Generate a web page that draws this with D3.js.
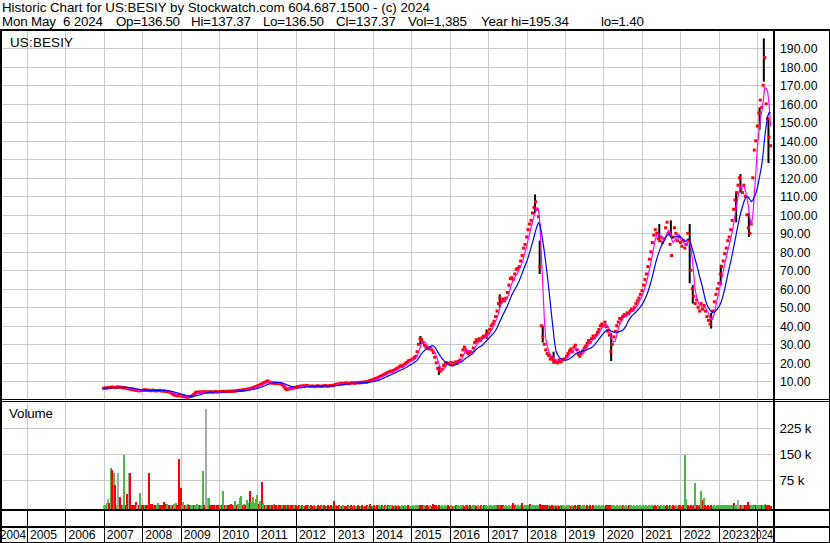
<!DOCTYPE html>
<html><head><meta charset="utf-8">
<script src="https://cdn.jsdelivr.net/npm/d3@7"></script>
<style>
html,body{margin:0;padding:0;background:#fff;}
svg{display:block;}
text{font-family:"Liberation Sans",Arial,sans-serif;fill:#000;font-size:13.33px;white-space:pre;}
</style>
</head><body>
<svg id="c" width="830" height="543"></svg>
<script>
// ---------------- DATA ----------------
const headerLine1 = "Historic Chart for US:BESIY by Stockwatch.com 604.687.1500 - (c) 2024";
const headerFields = ["Mon May  6 2024", "Op=136.50", "Hi=137.37", "Lo=136.50", "Cl=137.37", "Vol=1,385", "Year hi=195.34", "lo=1.40"];
const symbolLabel = "US:BESIY";
const volumeLabel = "Volume";
const yearLabels = [2004,2005,2006,2007,2008,2009,2010,2011,2012,2013,2014,2015,2016,2017,2018,2019,2020,2021,2022,2023,2024];
const priceTicks = [10,20,30,40,50,60,70,80,90,100,110,120,130,140,150,160,170,180,190];
const volumeTicks = [75,150,225]; // thousands

// bi-weekly closes (Jan 1 + 14*i days)
const close2007 = [6.2,6.4,6.3,6.6,6.5,6.8,6.9,6.7,6.6,7.0,6.8,6.9,6.7,6.5,6.6,6.4,6.2,6.0,5.8,5.5,5.6,5.3,5.0,5.2,4.8,5.0];
const close2008 = [5.0,5.2,5.4,5.1,5.3,5.0,4.9,5.2,5.1,4.8,5.0,4.9,5.1,4.8,4.7,4.9,4.6,4.4,4.5,4.0,3.6,3.0,2.6,2.4,2.2,2.3];
const close2009 = [2.2,2.0,1.8,1.6,1.5,1.4,1.6,1.8,2.2,3.0,3.8,4.2,4.0,4.3,4.1,4.2,4.4,4.2,4.3,4.1,4.4,4.2,4.0,4.3,4.4,4.2];
const close2010 = [4.3,4.4,4.5,4.6,4.4,4.5,4.7,4.5,4.6,4.8,4.6,4.7,4.9,5.0,5.2,5.1,5.3,5.5,5.4,5.7,5.9,6.0,6.2,6.5,6.8,7.2];
const close2011 = [7.5,7.8,8.2,8.6,9.0,9.4,9.8,10.2,9.6,9.3,9.0,9.2,8.8,9.1,8.7,8.9,8.5,8.0,7.0,6.0,5.5,5.8,6.2,5.9,6.3,6.5];
const close2012 = [6.8,7.0,7.2,7.4,7.3,7.6,7.5,7.8,7.6,7.4,7.2,7.5,7.3,7.1,7.4,7.6,7.3,7.2,7.5,7.4,7.7,7.5,7.3,7.6,7.8,7.6];
const close2013 = [8.0,8.3,8.5,8.4,8.7,8.9,8.6,8.8,9.1,8.9,8.7,9.0,9.3,9.1,8.9,9.2,9.4,9.1,9.5,9.3,9.6,9.8,9.5,9.9,10.3,10.6];
const close2014 = [10.8,11.2,11.5,11.8,12.2,12.6,13.0,13.4,13.8,14.2,14.8,15.0,15.5,15.2,15.8,16.3,16.8,17.2,17.8,18.4,18.0,18.8,19.5,20.2,21.0,21.3];
const close2015 = [21.5,22.0,22.8,23.5,26.0,30.0,33.0,32.5,31.0,29.5,28.5,28.0,27.5,28.0,27.0,25.5,23.0,20.0,17.0,16.0,15.5,16.5,18.5,19.5,20.0,19.8];
const close2016 = [19.5,20.2,19.0,19.8,20.5,19.6,20.8,21.5,24.0,27.0,28.5,27.0,25.5,24.8,26.0,25.5,28.0,31.0,32.5,31.5,33.0,32.0,33.5,34.5,34.0,35.5];
const close2017 = [36.0,38.0,40.0,41.0,42.5,45.0,48.0,52.0,55.0,53.0,54.5,53.5,55.0,58.0,62.0,65.5,66.0,65.0,68.0,70.5,71.0,72.0,75.0,78.0,82.0,84.0];
const close2018 = [88.0,92.0,95.0,97.0,101.0,104.0,107.0,103.0,99.0,72.0,40.0,34.0,30.0,27.0,25.0,24.0,22.0,23.0,21.5,20.5,21.0,20.0,21.5,20.5,21.0,22.0];
const close2019 = [22.0,23.5,25.0,26.5,27.5,26.0,28.5,29.5,27.0,24.5,23.5,25.0,26.5,28.0,29.0,30.5,32.0,31.0,33.0,34.5,33.5,35.0,36.5,38.0,40.0,41.0];
const close2020 = [40.0,42.0,39.5,37.0,35.0,26.0,30.0,34.0,37.0,40.0,42.0,44.0,43.5,45.0,46.0,45.5,47.0,46.5,48.0,49.0,48.5,50.0,52.0,53.5,55.0,57.0];
const close2021 = [59.0,62.0,65.0,68.0,72.0,76.0,80.0,85.0,89.0,92.0,90.0,87.0,86.0,88.0,85.0,87.0,93.0,96.0,90.0,84.0,78.0,88.0,93.0,90.0,86.0,88.0];
const close2022 = [85.0,83.0,86.0,82.0,84.0,90.0,86.0,70.0,60.0,56.0,52.0,54.0,50.0,48.0,52.0,49.0,51.0,48.0,45.0,43.0,41.0,44.0,48.0,53.0,57.0,60.0];
const close2023 = [63.0,68.0,72.0,75.0,79.0,82.0,86.0,88.0,92.0,97.0,103.0,108.0,112.0,116.0,120.0,114.0,112.0,116.0,110.0,100.0,93.0,90.0,95.0,120.0,135.0,140.0];
const close2024 = [148.0,155.0,162.0,158.0,170.0,185.0,160.0,152.0,142.0,137.37];

// notable high-low bars (decimal year, high, low)
const barYears = [2007.30,2008.00,2008.85,2011.28,2015.24,2015.72,2016.96,2017.30,2018.22,2018.34,2018.42,2018.70,2020.20,2021.45,2021.75,2022.24,2022.32,2022.80,2023.05,2023.45,2023.56,2023.78,2024.06,2024.17,2024.29];
const barHighs = [7.2,5.6,3.8,10.8,34.5,18.0,38.0,57.0,111.0,86.0,40.0,26.0,36.0,95.0,97.0,95.0,62.0,47.0,73.0,112.0,122.0,101.0,158.0,195.34,152.0];
const barLows  = [6.2,4.3,2.3,9.2,30.0,13.5,33.0,50.0,101.0,68.0,31.0,19.5,21.0,86.0,88.0,63.0,52.0,38.5,62.0,96.0,112.0,88.0,146.0,172.0,128.0];

// bi-weekly volume (thousands) and direction (u=up green, d=down red, n=unchanged gray)
const vol2007 = [4,3,10,21,10,110,105,96,61,4,96,28,3,5,148,3,35,96,96,3,4,3,12,4,3,37];
const dir2007 = "nuun dudu dund duud dndd dddn du";
const vol2008 = [4,3,5,3,4,96,6,7,3,4,5,10,3,4,5,12,6,8,3,5,4,3,6,10,3,136];
const dir2008 = "ddud dddd uduu dddd dudd uduu dd";
const vol2009 = [53,4,12,3,3,6,3,4,5,3,4,6,3,4,5,102,4,281,24,24,4,3,4,3,3,4];
const dir2009 = "duud uudu uduu uduu dnnu dddd ud";
const vol2010 = [3,4,3,44,3,4,3,5,6,4,5,15,4,6,24,30,4,8,3,18,10,44,12,27,10,20];
const dir2010 = "dudu dudd dduu duuu dudu uduu uu";
const vol2011 = [33,8,15,70,10,3,4,3,5,4,3,6,3,4,3,5,3,4,3,5,4,3,4,3,5,4];
const dir2011 = "udud udud dudu ddud dudd udud du";
const vol2012 = [3,2,4,2,3,2,2,3,4,2,3,2,3,2,2,3,2,4,2,3,2,2,3,2,3,2];
const dir2012 = "dddu dudd dudd udud ddud dudd du";
const vol2013 = [15,3,2,3,2,2,3,2,2,3,2,4,2,3,2,2,3,2,2,3,2,2,3,2,7,2];
const dir2013 = "dudd udud ddud dudu ddud uddu dd";
const vol2014 = [2,3,2,3,3,2,4,2,3,2,3,2,3,4,2,3,2,3,2,2,3,2,3,2,3,2];
const dir2014 = "udud uudu dudu uudu dudu uduu du";
const vol2015 = [2,3,2,4,3,5,4,3,2,3,2,3,2,3,2,6,3,3,2,3,2,3,2,3,2,3];
const dir2015 = "uuuu uudd dudd dudd ddud uuuu ud";
const vol2016 = [2,3,2,2,3,2,3,2,3,3,2,3,4,2,3,2,4,3,2,3,2,3,2,3,2,3];
const dir2016 = "dudu duuu uudu dudu uudu udud uu";
const vol2017 = [2,3,3,2,3,3,2,3,3,4,3,2,3,2,3,2,3,10,3,2,3,2,3,10,2,3];
const dir2017 = "uuuu uuud uddu uuuu uddu uuud uu";
const vol2018 = [3,3,7,5,3,4,3,3,4,7,5,4,3,3,4,3,2,3,2,3,2,3,2,3,2,3];
const dir2018 = "uudu uuuu uddd dddu dddu dudu du";
const vol2019 = [2,3,2,3,2,3,2,3,2,3,4,2,3,4,2,3,2,3,2,3,2,3,2,3,2,3];
const dir2019 = "uuuu dudd uddu uuud udud uuuu uu";
const vol2020 = [3,2,3,4,3,5,3,3,2,3,2,3,2,3,2,3,2,3,2,3,2,3,2,3,2,3];
const dir2020 = "uudd dduu uuuu uduu uduu uuuu uu";
const vol2021 = [2,3,2,3,2,3,2,3,2,3,2,3,2,3,2,3,2,3,2,3,2,3,2,3,2,3];
const dir2021 = "uuuu uuuu dddu duuu ddud uddu ud";
const vol2022 = [3,2,3,148,21,3,2,3,2,3,68,3,2,3,44,18,25,3,2,3,2,3,2,3,2,3];
const dir2022 = "dudu uddd ddud ddud uddd uduu uu";
const vol2023 = [3,4,3,4,3,4,3,4,3,4,10,3,4,18,3,4,3,4,3,4,13,3,4,3,4,3];
const dir2023 = "uuuu uuuu uudu unud uudd dduu ud";
const vol2024 = [3,4,3,5,4,6,4,3,4,2];
const dir2024 = "uuud uudd dd";

// ---------------- ASSEMBLY ----------------
const dataYears = [2007,2008,2009,2010,2011,2012,2013,2014,2015,2016,2017,2018,2019,2020,2021,2022,2023,2024];
const closesByYear = [close2007,close2008,close2009,close2010,close2011,close2012,close2013,close2014,close2015,close2016,close2017,close2018,close2019,close2020,close2021,close2022,close2023,close2024];
const volsByYear = [vol2007,vol2008,vol2009,vol2010,vol2011,vol2012,vol2013,vol2014,vol2015,vol2016,vol2017,vol2018,vol2019,vol2020,vol2021,vol2022,vol2023,vol2024];
const dirsByYear = [dir2007,dir2008,dir2009,dir2010,dir2011,dir2012,dir2013,dir2014,dir2015,dir2016,dir2017,dir2018,dir2019,dir2020,dir2021,dir2022,dir2023,dir2024];

const points = [];
dataYears.forEach((yr,k)=>{
  const dirs = dirsByYear[k].replace(/ /g,'');
  closesByYear[k].forEach((c,i)=>{
    points.push({date:d3.timeDay.offset(new Date(yr,0,1),14*i), close:c, vol:volsByYear[k][i], dir:dirs[i]});
  });
});
function decYear(v){ const yr=Math.floor(v); return d3.timeDay.offset(new Date(yr,0,1), Math.round((v-yr)*365.25)); }
const bars = barYears.map((v,i)=>({date:decYear(v), hi:barHighs[i], lo:barLows[i]}));
function sma(arr,n){ return arr.map((d,i)=>({date:d.date, v:d3.mean(arr.slice(Math.max(0,i-n+1),i+1), e=>e.close)})); }
const maShort = sma(points,4);
const maLong = sma(points,11);

// text advance widths of the original bitmap font (px per glyph), used to size texts
const adv = {' ':4,'0':7,'1':7,'2':7,'3':7,'4':7,'5':7,'6':7,'7':7,'8':7,'9':7,'.':4,',':4,':':4,'=':8,'-':4,'(':4,')':4,
  'B':9,'C':10,'E':9,'H':10,'I':4,'L':7,'M':11,'O':10,'S':9,'U':10,'V':9,'Y':9,
  'a':7,'b':7,'c':7,'e':7,'f':4,'h':7,'i':3,'k':7,'l':3,'m':11,'n':7,'o':7,'p':7,'r':4,'s':7,'t':4,'u':7,'w':10,'y':7};
const tw = s => Array.from(String(s)).reduce((a,c)=>a+(adv[c]||7),0);

// ---------------- DRAW ----------------
const svg = d3.select("#c");
const W=830, H=543, PR=773;
const x = d3.scaleTime().domain([new Date(2005,0,1), new Date(2024,0,1)]).range([26.7,757.3]);
const y = d3.scaleLinear().domain([0,200]).range([399.8,29.8]);
const yv = d3.scaleLinear().domain([0,300]).range([506.3,402.3]);
const px = v => Math.round(v)+0.5;

svg.append("rect").attr("width",W).attr("height",H).attr("fill","#fff");
const defs = svg.append("defs");
defs.append("clipPath").attr("id","cp").append("rect").attr("x",2).attr("y",31).attr("width",PR-2).attr("height",368);
defs.append("clipPath").attr("id","cv").append("rect").attr("x",2).attr("y",402).attr("width",PR-2).attr("height",107);
defs.append("clipPath").attr("id","cl").append("rect").attr("x",0).attr("y",527).attr("width",PR).attr("height",16);

const grid = svg.append("g").attr("stroke","#c8c8c8").attr("stroke-width",1).attr("shape-rendering","crispEdges");
const yearsGrid = yearLabels.slice(1);
grid.selectAll(".hp").data(priceTicks).join("line").attr("class","hp").attr("x1",0).attr("x2",PR).attr("y1",d=>px(y(d))).attr("y2",d=>px(y(d)));
grid.selectAll(".vp").data(yearsGrid).join("line").attr("class","vp").attr("x1",d=>px(x(new Date(d,0,1)))).attr("x2",d=>px(x(new Date(d,0,1)))).attr("y1",31).attr("y2",399);
grid.selectAll(".hv").data(volumeTicks).join("line").attr("class","hv").attr("x1",0).attr("x2",PR).attr("y1",d=>px(yv(d))).attr("y2",d=>px(yv(d)));
grid.selectAll(".vv").data(yearsGrid).join("line").attr("class","vv").attr("x1",d=>px(x(new Date(d,0,1)))).attr("x2",d=>px(x(new Date(d,0,1)))).attr("y1",402).attr("y2",509);

// price marks
const gp = svg.append("g").attr("clip-path","url(#cp)");
gp.selectAll(".bar").data(bars).join("rect").attr("class","bar").attr("x",d=>x(d.date)-1).attr("width",2)
  .attr("y",d=>y(d.hi)).attr("height",d=>y(d.lo)-y(d.hi)).attr("fill","#000");
gp.selectAll(".pt").data(points).join("rect").attr("class","pt").attr("x",d=>x(d.date)-1.5).attr("y",d=>y(d.close)-1.5)
  .attr("width",3).attr("height",3).attr("fill","#ff0000");
const line = d3.line().x(d=>x(d.date)).y(d=>y(d.v));
gp.append("path").datum(maShort).attr("d",line).attr("fill","none").attr("stroke","#ff00ff").attr("stroke-width",1.2);
gp.append("path").datum(maLong).attr("d",line).attr("fill","none").attr("stroke","#0000ff").attr("stroke-width",1.2);

// volume bars
const colors = {u:"#4cb848", d:"#ff0000", n:"#a8a8a8"};
const gv = svg.append("g").attr("clip-path","url(#cv)").attr("shape-rendering","crispEdges");
gv.selectAll("rect").data(points).join("rect").attr("x",d=>x(d.date)-1).attr("width",2)
  .attr("y",d=>yv(d.vol)).attr("height",d=>509-yv(d.vol)).attr("fill",d=>colors[d.dir]);

// frame
const fr = svg.append("g").attr("fill","#000").attr("shape-rendering","crispEdges");
fr.append("rect").attr("x",0).attr("y",29).attr("width",W).attr("height",2);
fr.append("rect").attr("x",0).attr("y",399).attr("width",W).attr("height",1);
fr.append("rect").attr("x",0).attr("y",401).attr("width",W).attr("height",1);
fr.append("rect").attr("x",0).attr("y",509).attr("width",W).attr("height",2);
fr.append("rect").attr("x",0).attr("y",526).attr("width",W).attr("height",2);
fr.append("rect").attr("x",0).attr("y",542).attr("width",W).attr("height",1);
fr.append("rect").attr("x",0).attr("y",29).attr("width",2).attr("height",H-29);
fr.append("rect").attr("x",PR).attr("y",29).attr("width",2).attr("height",H-29);
fr.append("rect").attr("x",W-1).attr("y",29).attr("width",1).attr("height",H-29);
fr.selectAll(".tk").data(yearsGrid).join("rect").attr("class","tk").attr("x",d=>Math.round(x(new Date(d,0,1)))).attr("width",1).attr("y",511).attr("height",15);
fr.selectAll(".sp").data(yearsGrid).join("rect").attr("class","sp").attr("x",d=>Math.round(x(new Date(d,0,1)))).attr("width",1).attr("y",528).attr("height",14);

// header
svg.append("text").attr("x",2).attr("y",12).attr("textLength",tw(headerLine1)).attr("lengthAdjust","spacing").text(headerLine1);
const headerX = [2,116,191,263,336,408,481,601];
svg.selectAll(".hf").data(headerFields).join("text").attr("class","hf").attr("x",(d,i)=>headerX[i]).attr("y",26)
  .attr("textLength",d=>tw(d)).attr("lengthAdjust","spacing").text(d=>d);

// inner labels
svg.append("text").attr("x",10).attr("y",47).attr("textLength",tw(symbolLabel)).attr("lengthAdjust","spacing").text(symbolLabel);
svg.append("text").attr("x",9).attr("y",418).attr("textLength",tw(volumeLabel)).attr("lengthAdjust","spacing").text(volumeLabel);

// right axis labels
const fmt = d3.format(".2f");
svg.selectAll(".pl").data(priceTicks).join("text").attr("class","pl").attr("x",780).attr("y",d=>y(d)+5)
  .attr("textLength",d=>tw(fmt(d))-1.5).attr("lengthAdjust","spacingAndGlyphs").text(d=>fmt(d));
svg.selectAll(".vl").data(volumeTicks).join("text").attr("class","vl").attr("x",779.5).attr("y",d=>yv(d)+5)
  .attr("textLength",d=>tw(d+" k")).attr("lengthAdjust","spacing").text(d=>d+" k");

// year labels
const gl = svg.append("g").attr("clip-path","url(#cl)");
gl.selectAll("text").data(yearLabels).join("text")
  .attr("x",d=> d===2004 ? 0 : d===2024 ? 750 : x(new Date(d,0,1))+3.3)
  .attr("y",539)
  .attr("textLength",d=> d===2004 ? 26 : d===2024 ? 23 : tw(d)-1).attr("lengthAdjust","spacingAndGlyphs").text(d=>d);
</script>
</body></html>
